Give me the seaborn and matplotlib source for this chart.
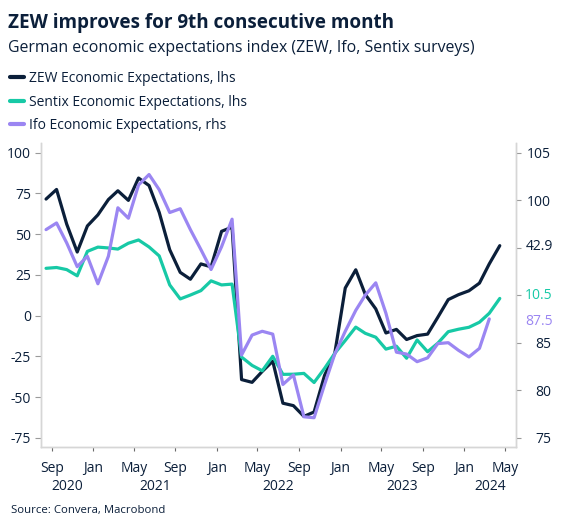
import numpy as np
import pandas as pd
import matplotlib
matplotlib.use("Agg")
import matplotlib.pyplot as plt
import matplotlib.dates as mdates
import matplotlib.transforms as mtransforms
from matplotlib.lines import Line2D
import seaborn as sns

# ── Data (monthly, Aug 2020 onwards) ─────────────────────────────────────────

START_MONTH = "2020-08-01"

zew = [71.5, 77.4, 56.1, 39.0, 55.0,
       61.8, 71.2, 76.6, 70.7, 84.4, 79.8, 63.3, 40.4, 26.5, 22.3, 31.7, 29.9,
       51.7, 54.3, -39.3, -41.0, -34.3, -28.0, -53.8, -55.3, -61.9, -59.2, -36.7, -23.3,
       16.9, 28.1, 13.0, 4.1, -10.7, -8.5, -14.7, -12.3, -11.4, -1.1, 9.8, 12.8,
       15.2, 19.9, 31.7, 42.9]

sentix = [29.0, 29.5, 28.2, 24.4, 39.4,
          42.0, 41.5, 40.8, 44.4, 46.4, 42.1, 36.6, 18.8, 10.2, 12.6, 15.3, 21.3,
          18.8, 19.3, -25.5, -30.6, -33.9, -25.0, -36.1, -36.0, -35.5, -41.1, -32.4, -23.2,
          -15.3, -7.1, -10.9, -13.3, -20.6, -18.8, -26.2, -15.0, -22.2, -17.0, -9.9, -8.4,
          -7.2, -4.1, 1.4, 10.5]

ifo = [96.9, 97.6, 95.5, 93.0, 94.1,
       91.2, 94.1, 99.2, 98.1, 101.6, 102.7, 101.1, 98.7, 99.1, 96.9, 94.8, 92.7,
       95.1, 98.0, 83.7, 85.8, 86.2, 85.9, 80.6, 81.6, 77.2, 77.1, 80.6, 83.8,
       86.2, 88.4, 90.0, 91.3, 88.1, 84.0, 83.8, 83.0, 83.4, 84.9, 85.0, 84.2,
       83.5, 84.4, 87.5]

series_labels = ["ZEW Economic Expectations, lhs",
                 "Sentix Economic Expectations, lhs",
                 "Ifo Economic Expectations, rhs"]

left_ticks = [-75, -50, -25, 0, 25, 50, 75, 100]
right_ticks = [75, 80, 85, 90, 95, 100, 105]
right_ticklabels = ["75", "80", "85", "", "", "100", "105"]

# ── Style ────────────────────────────────────────────────────────────────────

NAVY = "#0b1f3a"
TEAL = "#17c9a6"
PURPLE = "#9b86f2"
GRID = "#d6d6d6"

sns.set_theme(style="white")
plt.rcParams["font.family"] = ["Open Sans", "DejaVu Sans"]
plt.rcParams["text.color"] = NAVY
plt.rcParams["axes.labelcolor"] = NAVY
plt.rcParams["xtick.color"] = NAVY
plt.rcParams["ytick.color"] = NAVY


def month_mid(n):
    return pd.date_range(START_MONTH, periods=n, freq="MS") + pd.Timedelta(days=14)


df_l = pd.DataFrame({"date": month_mid(len(zew)), "zew": zew, "sentix": sentix})
df_r = pd.DataFrame({"date": month_mid(len(ifo)), "ifo": ifo})

# ── Figure ───────────────────────────────────────────────────────────────────

W, H = 566, 529
fig = plt.figure(figsize=(W / 100, H / 100), dpi=100)
ax = fig.add_axes([41.3 / W, 1 - 446.7 / H, (515.7 - 41.3) / W, (446.7 - 142.7) / H])
ax2 = ax.twinx()

lw = 2.3
sns.lineplot(data=df_l, x="date", y="zew", ax=ax, color=NAVY, lw=lw)
sns.lineplot(data=df_l, x="date", y="sentix", ax=ax, color=TEAL, lw=lw)
sns.lineplot(data=df_r, x="date", y="ifo", ax=ax2, color=PURPLE, lw=lw)

ax.set_ylim(-80.5, 106.1)
ax2.set_ylim(74.05, 106.05)
ax.set_xlim(pd.Timestamp("2020-08-01"), pd.Timestamp("2024-06-01"))

ax.set_yticks(left_ticks)
ax.set_yticklabels([str(t) for t in left_ticks])
ax2.set_yticks(right_ticks)
ax2.set_yticklabels(right_ticklabels)

ax.xaxis.set_major_locator(mdates.MonthLocator(bymonth=[1, 5, 9]))
ax.xaxis.set_major_formatter(mdates.DateFormatter("%b"))

for a in (ax, ax2):
    a.set_xlabel("")
    a.set_ylabel("")
    a.spines["top"].set_visible(False)
    for side in ("left", "right", "bottom"):
        a.spines[side].set_color(GRID)
        a.spines[side].set_linewidth(1.0)

ax.tick_params(axis="y", which="major", left=True, length=4.5, width=0.8,
               color="#9a9a9a", labelsize=10, pad=3)
ax.tick_params(axis="x", which="major", bottom=True, length=3, width=0.8,
               color="#6a6a6a", labelsize=10, pad=7)
ax2.tick_params(axis="y", which="major", right=True, length=3.5, width=0.8,
                color="#9a9a9a", labelsize=10, pad=22)
for lbl in ax2.get_yticklabels():
    lbl.set_horizontalalignment("right")

# year labels centred under the visible part of each year
xmin, xmax = ax.get_xlim()
blend = mtransforms.blended_transform_factory(ax.transData, ax.transAxes)
for year in range(2020, 2025):
    a0 = max(mdates.date2num(pd.Timestamp(f"{year}-01-01")), xmin)
    a1 = min(mdates.date2num(pd.Timestamp(f"{year + 1}-01-01")), xmax)
    ax.text((a0 + a1) / 2, -0.1316, str(year), transform=blend,
            ha="center", va="center", fontsize=10, color=NAVY)

# latest-value labels on the right
rblend = mtransforms.blended_transform_factory(ax2.transAxes, ax2.transData)
x_lab = (552.7 - 41.3) / (515.7 - 41.3)
ax2.text(x_lab, 95.1, f"{zew[-1]:.1f}", transform=rblend, ha="right", va="center",
         fontsize=10, color=NAVY)
ax2.text(x_lab, 90.0, f"{sentix[-1]:.1f}", transform=rblend, ha="right", va="center",
         fontsize=10, color=TEAL)
ax2.text(x_lab, 87.2, f"{ifo[-1]:.1f}", transform=rblend, ha="right", va="center",
         fontsize=10, color=PURPLE)

# ── Titles, legend, source ───────────────────────────────────────────────────

fig.text(8 / W, 1 - 23 / H, "ZEW improves for 9th consecutive month",
         fontsize=13.6, fontweight="bold", va="center", ha="left", color=NAVY)
fig.text(8 / W, 1 - 48 / H,
         "German economic expectations index (ZEW, Ifo, Sentix surveys)",
         fontsize=11.4, va="center", ha="left", color=NAVY)

handles = [Line2D([], [], color=c, lw=3) for c in (NAVY, TEAL, PURPLE)]
fig.legend(handles, series_labels, loc="upper left",
           bbox_to_anchor=(10 / W, 1 - 71 / H), frameon=False,
           borderpad=0, borderaxespad=0, handlelength=1.0, handletextpad=0.35,
           labelspacing=0.62, fontsize=10, labelcolor=NAVY)

fig.text(11 / W, 1 - 510.7 / H, "Source: Convera, Macrobond",
         fontsize=8.2, va="center", ha="left", color=NAVY)

fig.savefig("out.png", dpi=100)
